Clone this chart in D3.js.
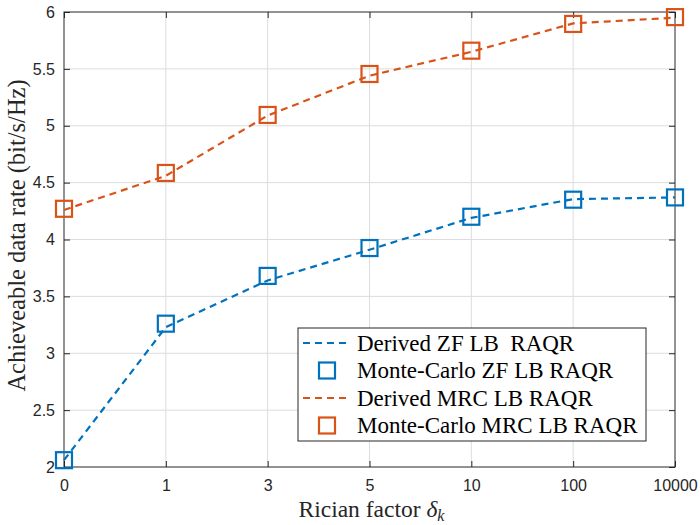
<!DOCTYPE html>
<html>
<head>
<meta charset="utf-8">
<script src="https://cdn.jsdelivr.net/npm/d3@7"></script>
<style>
  body { margin: 0; background: #fff; }
  svg { display: block; }
</style>
</head>
<body>
<svg id="chart" width="700" height="525"></svg>
<script>
const categories = ["0", "1", "3", "5", "10", "100", "10000"];
const zfDerived = [2.06, 3.23, 3.64, 3.91, 4.19, 4.355, 4.37];
const zfMonte = [2.06, 3.26, 3.68, 3.925, 4.2, 4.35, 4.37];
const mrcDerived = [4.26, 4.56, 5.09, 5.44, 5.65, 5.9, 5.95];
const mrcMonte = [4.27, 4.585, 5.095, 5.455, 5.66, 5.895, 5.955];
const yTicks = [2, 2.5, 3, 3.5, 4, 4.5, 5, 5.5, 6];

const blue = "#0072BD", orange = "#D95319";

const svg = d3.select("#chart");
const m = { left: 64, right: 25, top: 12, bottom: 58 };
const W = 700 - m.left - m.right, H = 525 - m.top - m.bottom;
const g = svg.append("g").attr("transform", `translate(${m.left},${m.top})`);

const x = d3.scalePoint().domain(categories).range([0, W]);
const y = d3.scaleLinear().domain([2, 6]).range([H, 0]);

// grid
g.append("g").selectAll("line").data(categories.slice(1, -1)).enter().append("line")
    .attr("x1", d => x(d)).attr("x2", d => x(d)).attr("y1", 0).attr("y2", H)
    .attr("stroke", "#dcdcdc").attr("stroke-width", 1);
g.append("g").selectAll("line").data(yTicks.slice(1, -1)).enter().append("line")
    .attr("y1", d => y(d)).attr("y2", d => y(d)).attr("x1", 0).attr("x2", W)
    .attr("stroke", "#dcdcdc").attr("stroke-width", 1);

// axes
const tickFont = g => g.selectAll("text")
    .attr("font-family", "Liberation Sans, Arial, sans-serif")
    .attr("font-size", 16).attr("fill", "#262626");

g.append("g").attr("transform", `translate(0,${H})`)
    .call(d3.axisBottom(x).tickSizeInner(-6).tickSizeOuter(0).tickPadding(13))
    .call(tickFont).call(a => a.select(".domain").remove())
    .call(a => a.selectAll("line").attr("stroke", "#262626"));
g.append("g")
    .call(d3.axisTop(x).tickSizeInner(-6).tickSizeOuter(0).tickFormat(""))
    .call(a => a.select(".domain").remove())
    .call(a => a.selectAll("line").attr("stroke", "#262626"));
g.append("g")
    .call(d3.axisLeft(y).tickValues(yTicks).tickFormat(d3.format("")).tickSizeInner(-6).tickSizeOuter(0).tickPadding(9))
    .call(tickFont).call(a => a.select(".domain").remove())
    .call(a => a.selectAll("line").attr("stroke", "#262626"));
g.append("g").attr("transform", `translate(${W},0)`)
    .call(d3.axisRight(y).tickValues(yTicks).tickSizeInner(-6).tickSizeOuter(0).tickFormat(""))
    .call(a => a.select(".domain").remove())
    .call(a => a.selectAll("line").attr("stroke", "#262626"));

g.append("rect").attr("width", W).attr("height", H)
    .attr("fill", "none").attr("stroke", "#262626").attr("stroke-width", 1);

// series
const line = d3.line().x((d, i) => x(categories[i])).y(d => y(d));
function drawLine(data, color) {
    g.append("path").datum(data).attr("d", line)
        .attr("fill", "none").attr("stroke", color)
        .attr("stroke-width", 2.2).attr("stroke-dasharray", "7,5");
}
function drawMarkers(data, color) {
    g.append("g").selectAll("rect").data(data).enter().append("rect")
        .attr("x", (d, i) => x(categories[i]) - 8).attr("y", d => y(d) - 8)
        .attr("width", 16).attr("height", 16)
        .attr("fill", "none").attr("stroke", color).attr("stroke-width", 2.2);
}
drawLine(zfDerived, blue);
drawMarkers(zfMonte, blue);
drawLine(mrcDerived, orange);
drawMarkers(mrcMonte, orange);

// axis labels
svg.append("text")
    .attr("transform", `translate(25,${m.top + H / 2 - 4}) rotate(-90)`)
    .attr("text-anchor", "middle")
    .attr("font-family", "Liberation Serif, Times New Roman, serif")
    .attr("font-size", 24.5).attr("fill", "#262626")
    .text("Achieveable data rate (bit/s/Hz)");

const xl = svg.append("text")
    .attr("x", m.left + W / 2 + 2).attr("y", 517)
    .attr("text-anchor", "middle")
    .attr("font-family", "Liberation Serif, Times New Roman, serif")
    .attr("font-size", 23.5).attr("fill", "#262626");
xl.append("tspan").text("Rician factor ");
xl.append("tspan").attr("font-style", "italic").text("δ");
xl.append("tspan").attr("font-style", "italic").attr("font-size", 16).attr("dy", 4).text("k");

// legend
const legendItems = [
    { label: "Derived ZF LB  RAQR", color: blue, type: "line" },
    { label: "Monte-Carlo ZF LB RAQR", color: blue, type: "marker" },
    { label: "Derived MRC LB RAQR", color: orange, type: "line" },
    { label: "Monte-Carlo MRC LB RAQR", color: orange, type: "marker" }
];
const lg = svg.append("g").attr("transform", "translate(298,328)");
lg.append("rect").attr("width", 348).attr("height", 113)
    .attr("fill", "#fff").attr("stroke", "#262626").attr("stroke-width", 1);
legendItems.forEach((d, i) => {
    const cy = 15 + i * 27.5;
    if (d.type === "line") {
        lg.append("line").attr("x1", 5).attr("x2", 52).attr("y1", cy).attr("y2", cy)
            .attr("stroke", d.color).attr("stroke-width", 2.2).attr("stroke-dasharray", "7,5");
    } else {
        lg.append("rect").attr("x", 21).attr("y", cy - 8).attr("width", 16).attr("height", 16)
            .attr("fill", "none").attr("stroke", d.color).attr("stroke-width", 2.2);
    }
    lg.append("text").attr("x", 59).attr("y", cy + 7.5)
        .attr("font-family", "Liberation Serif, Times New Roman, serif")
        .attr("font-size", 23).attr("fill", "#000")
        .style("white-space", "pre")
        .text(d.label);
});
</script>
</body>
</html>
